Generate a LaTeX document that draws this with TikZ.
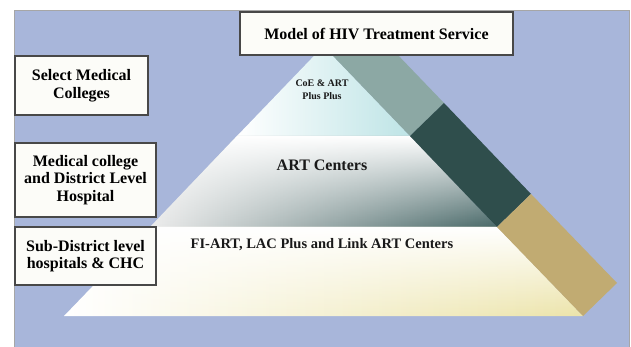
\documentclass[tikz,border=0pt]{standalone}
\usepackage{fontspec}
\setmainfont{Liberation Serif}
\usetikzlibrary{fadings}

\definecolor{bgblue}{RGB}{168,182,218}
\definecolor{boxedge}{RGB}{72,72,72}
\definecolor{boxfill}{RGB}{252,252,248}
\definecolor{stripgrey}{RGB}{140,168,164}
\definecolor{stripdark}{RGB}{47,78,76}
\definecolor{striptan}{RGB}{193,171,114}
\definecolor{tiercyan}{RGB}{190,228,230}
\definecolor{tierteal}{RGB}{72,104,104}
\definecolor{tieryellow}{RGB}{236,228,170}

\tikzfading[name=tierfade, top color=transparent!0, middle color=transparent!15, bottom color=transparent!100]

\begin{document}
\begin{tikzpicture}[
    x=1pt, y=-1pt,
    levelbox/.style={rectangle, draw=boxedge, line width=1.2pt, fill=boxfill, align=center, inner sep=2pt, font=\fontsize{16}{17.5}\selectfont\bfseries},
    headbox/.style={levelbox, font=\fontsize{16}{18}\selectfont\bfseries},
    tiertext/.style={align=center, text=black!90}
]
    \useasboundingbox (0,0) rectangle (631,347);

    % Background panel
    \fill [white] (0,0) rectangle (631,347);
    \filldraw [fill=bgblue, draw=gray!70, line width=0.6pt] (14,10) rectangle (629,349);

    % Pyramid corners and tier edges
    \coordinate (apex) at (323.5,46);
    \coordinate (botleft) at (64,316);
    \coordinate (botright) at (583,316);
    \coordinate (oneleft) at (237,136);
    \coordinate (oneright) at (410,136);
    \coordinate (twoleft) at (150,227);
    \coordinate (tworight) at (497,227);

    % Outer edge of the side strip
    \coordinate (apexout) at (357.5,13);
    \coordinate (oneout) at (444,103);
    \coordinate (twoout) at (531,194);
    \coordinate (botout) at (617,283);

    % Top tier
    \shade [left color=white, right color=tiercyan] (apex) -- (oneright) -- (oneleft) -- cycle;

    % Middle tier
    \shade [left color=gray!15, middle color=gray!55, right color=tierteal] (oneleft) -- (oneright) -- (tworight) -- (twoleft) -- cycle;
    \fill [white, path fading=tierfade] (oneleft) -- (oneright) -- (tworight) -- (twoleft) -- cycle;

    % Bottom tier
    \shade [left color=white, middle color=tieryellow!55!white, right color=tieryellow] (twoleft) -- (tworight) -- (botright) -- (botleft) -- cycle;
    \fill [white, path fading=tierfade] (twoleft) -- (tworight) -- (botright) -- (botleft) -- cycle;

    % Side strip
    \fill [stripgrey] (apex) -- (apexout) -- (oneout) -- (oneright) -- cycle;
    \fill [stripdark] (oneright) -- (oneout) -- (twoout) -- (tworight) -- cycle;
    \fill [striptan] (tworight) -- (twoout) -- (botout) -- (botright) -- cycle;

    % Tier labels
    \node [tiertext, font=\fontsize{10}{13}\selectfont\bfseries] (coe) at (322,90) {CoE \& ART\\Plus Plus};
    \node [tiertext, font=\fontsize{16}{18}\selectfont\bfseries] (artc) at (322,165) {ART Centers};
    \node [tiertext, font=\fontsize{14.5}{17}\selectfont\bfseries] (fiart) at (322,245) {FI-ART, LAC Plus and Link ART Centers};

    % Title
    \node [headbox, minimum width=273pt, minimum height=43pt] (model) at (376.5,33.5) {Model of HIV Treatment Service};

    % Level boxes
    \node [levelbox, minimum width=133pt, minimum height=59pt] (select) at (81.5,85.5) {Select Medical\\Colleges};
    \node [levelbox, minimum width=141pt, minimum height=74pt] (district) at (85.5,180) {Medical college\\and District Level\\Hospital};
    \node [levelbox, minimum width=141pt, minimum height=58pt] (subdist) at (85.5,256) {Sub-District level\\hospitals \& CHC};
\end{tikzpicture}
\end{document}
